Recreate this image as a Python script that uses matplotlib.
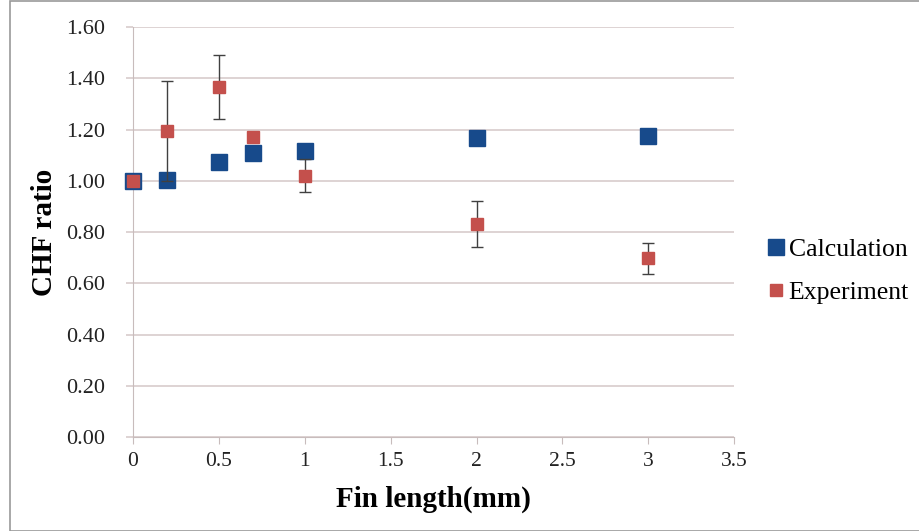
import matplotlib.pyplot as plt
from matplotlib.lines import Line2D
from matplotlib.patches import Rectangle

# fin length (mm) and CHF ratios
fin_length = [0, 0.2, 0.5, 0.7, 1.0, 2.0, 3.0]
calc = [1.00, 1.005, 1.075, 1.11, 1.117, 1.168, 1.175]
expt = [1.00, 1.195, 1.366, 1.172, 1.02, 0.833, 0.697]
expt_err = [0.0, 0.195, 0.125, 0.0, 0.065, 0.09, 0.06]

blue = '#174a8b'
red = '#c4504c'

plt.rcParams['font.family'] = ['Liberation Serif', 'DejaVu Serif']

fig = plt.figure(figsize=(9.2, 5.31), dpi=100)
ax = fig.add_axes([0.1446, 0.177, 0.6534, 0.772])

ax.plot(fin_length, calc, 's', color=blue, markersize=11.5,
        linestyle='none', zorder=3, clip_on=False)
ax.errorbar(fin_length, expt, yerr=expt_err, fmt='s', color=red,
            markersize=9, ecolor='#404040', elinewidth=1, capsize=4,
            capthick=1, zorder=4, clip_on=False)

ax.set_xlim(0, 3.5)
ax.set_ylim(0, 1.6)
ax.set_xticks([0, 0.5, 1, 1.5, 2, 2.5, 3, 3.5])
ax.set_xticklabels(['0', '0.5', '1', '1.5', '2', '2.5', '3', '3.5'])
ax.set_yticks([0.2 * i for i in range(9)])
ax.set_yticklabels(['%.2f' % (0.2 * i) for i in range(9)])
ax.grid(axis='y', color='#d8cccc', linewidth=1.2)
ax.set_axisbelow(True)

for s in ['top', 'right']:
    ax.spines[s].set_visible(False)
ax.spines['left'].set_color('#c8bcbc')
ax.spines['bottom'].set_color('#c8bcbc')
ax.tick_params(axis='x', colors='#c8bcbc', labelcolor='#222222', labelsize=15.5,
               length=5, direction='out', pad=6)
ax.tick_params(axis='y', colors='#d8cccc', labelcolor='#222222', labelsize=16,
               length=5, width=1.2, direction='out', pad=15)

ax.set_xlabel('Fin length(mm)', fontsize=21, fontweight='bold', labelpad=10)
ax.set_ylabel('CHF ratio', fontsize=21, fontweight='bold', labelpad=6)

handles = [Line2D([], [], marker='s', color=blue, linestyle='none', markersize=11),
           Line2D([], [], marker='s', color=red, linestyle='none', markersize=9)]
ax.legend(handles, ['Calculation', 'Experiment'], loc='center left',
          bbox_to_anchor=(1.02, 0.405), frameon=False, fontsize=18.5,
          handletextpad=0.05, labelspacing=0.75, handlelength=0.9,
          borderaxespad=0.3)

fig.patches.append(Rectangle((0.011, 0.0), 0.989, 0.999, transform=fig.transFigure,
                             fill=False, edgecolor='#999999', linewidth=1.2))

fig.savefig('out.png', dpi=100)
